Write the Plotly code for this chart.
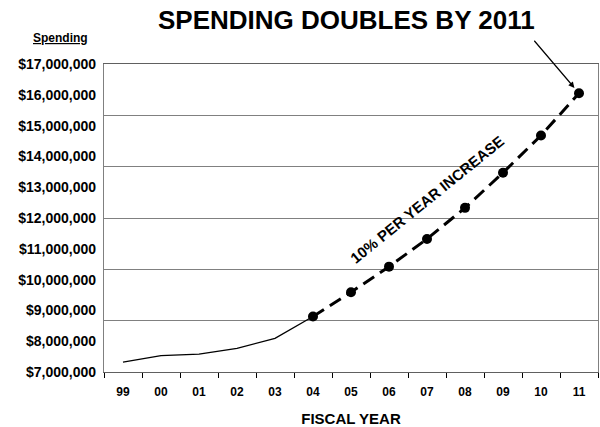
import plotly.graph_objects as go

years = ['99', '00', '01', '02', '03', '04', '05', '06', '07', '08', '09', '10', '11']
actual_years = ['99', '00', '01', '02', '03', '04']
actual_spending = [7320000, 7530000, 7580000, 7770000, 8090000, 8800000]
proj_years = ['04', '05', '06', '07', '08', '09', '10', '11']
proj_spending = [8800000, 9590000, 10420000, 11320000, 12330000, 13470000, 14680000, 16050000]
y_ticks = [7000000 + 1000000 * i for i in range(11)]
y_ticktext = ['${:,}'.format(v) for v in y_ticks]

FONT = "Liberation Sans, Arial, sans-serif"

fig = go.Figure()
# helper trace for the grid axis
fig.add_trace(go.Scatter(x=[years[0]], y=[0], yaxis='y2', mode='markers',
                         marker=dict(opacity=0), hoverinfo='skip', showlegend=False))
fig.add_trace(go.Scatter(x=actual_years, y=actual_spending, mode='lines',
                         line=dict(color='black', width=1.3), showlegend=False))
fig.add_trace(go.Scatter(x=proj_years, y=proj_spending, mode='lines+markers',
                         line=dict(color='black', width=3, dash='13px,7px'),
                         marker=dict(color='black', size=10), showlegend=False))

fig.update_layout(
    width=600, height=427,
    margin=dict(l=104, r=2, t=64, b=55),
    paper_bgcolor='white', plot_bgcolor='white',
    font=dict(family=FONT, color='black'),
    xaxis=dict(type='category', categoryorder='array', categoryarray=years,
               range=[-0.5, 12.5], showgrid=False, showline=True, mirror=True,
               linecolor='#606060', linewidth=1.3, ticks='outside', tickson='boundaries',
               ticklen=5, tickcolor='black', tickwidth=1, ticklabelstandoff=8,
               tickfont=dict(size=12, family=FONT, weight='bold'),
               title=dict(text='<b>FISCAL YEAR</b>', font=dict(size=15), standoff=15)),
    yaxis=dict(range=[7000000, 17000000], tickvals=y_ticks, ticktext=y_ticktext,
               showgrid=False, showline=True, mirror=True, linecolor='#808080', linewidth=1.3,
               ticks='outside', ticklen=4, tickcolor='rgba(0,0,0,0)', zeroline=False,
               tickfont=dict(size=14, family=FONT, weight='bold')),
    yaxis2=dict(range=[0, 6], dtick=1, overlaying='y', showgrid=True, gridcolor='#808080',
                gridwidth=1.3, showticklabels=False, zeroline=False, showline=False),
    annotations=[
        dict(text='<b>SPENDING DOUBLES BY 2011</b>', xref='paper', yref='paper',
             x=(346.5 - 104) / 494, y=1 + (64 - 19.5) / 308, showarrow=False,
             font=dict(size=26, family=FONT), xanchor='center', yanchor='middle'),
        dict(text='<b><u>Spending</u></b>', xref='paper', yref='paper',
             x=(60 - 104) / 494, y=1 + (64 - 38) / 308, showarrow=False,
             font=dict(size=12, family=FONT), xanchor='center', yanchor='middle'),
        dict(text='<b>10% PER YEAR INCREASE</b>', x=years.index('07'), y=12600000,
             showarrow=False, textangle=-39, font=dict(size=15, family=FONT)),
        dict(text='', x=years.index(proj_years[-1]), y=proj_spending[-1], showarrow=True,
             ax=-46, ay=-54, arrowhead=2, arrowsize=1, arrowwidth=1.2, standoff=7,
             arrowcolor='black'),
    ],
)

fig.write_html("out.html")
